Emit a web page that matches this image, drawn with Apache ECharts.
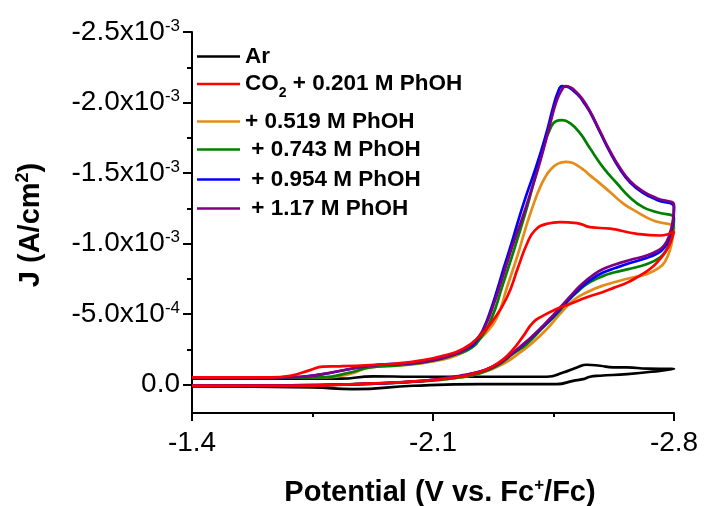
<!DOCTYPE html>
<html>
<head>
<meta charset="utf-8">
<script src="https://cdn.jsdelivr.net/npm/echarts@6/dist/echarts.min.js"></script>
<style>
  html, body { margin: 0; padding: 0; background: #ffffff; }
  #chart { width: 707px; height: 506px; }
</style>
</head>
<body>
<div id="chart"></div>
<script>
// Cyclic voltammograms, each a closed loop of [potential (V vs. Fc+/Fc), J (A/cm2)]:
// cathodic sweep from -1.4 V to -2.8 V, then the return sweep back to -1.4 V.
const ar = [
  [-1.400,-0.043e-3],[-1.830,-0.043e-3],[-1.926,-0.060e-3],[-2.042,-0.057e-3],[-2.431,-0.057e-3],
  [-2.478,-0.087e-3],[-2.518,-0.123e-3],[-2.547,-0.142e-3],[-2.585,-0.135e-3],[-2.623,-0.123e-3],
  [-2.664,-0.123e-3],[-2.722,-0.114e-3],[-2.800,-0.112e-3],
  [-2.759,-0.099e-3],[-2.664,-0.076e-3],[-2.585,-0.064e-3],[-2.556,-0.057e-3],[-2.536,-0.040e-3],
  [-2.507,-0.028e-3],[-2.460,-0.005e-3],[-2.237,-0.005e-3],[-2.042,0.007e-3],[-1.868,0.031e-3],
  [-1.751,0.019e-3],[-1.400,0.012e-3]
];

const co2 = [
  [-1.400,-0.053e-3],[-1.627,-0.053e-3],[-1.685,-0.064e-3],[-1.743,-0.104e-3],[-1.780,-0.128e-3],
  [-1.830,-0.131e-3],[-1.917,-0.140e-3],[-1.995,-0.151e-3],[-2.071,-0.175e-3],[-2.129,-0.206e-3],
  [-2.187,-0.254e-3],[-2.237,-0.348e-3],[-2.274,-0.455e-3],[-2.315,-0.620e-3],[-2.347,-0.831e-3],
  [-2.373,-0.999e-3],[-2.396,-1.094e-3],[-2.431,-1.141e-3],[-2.469,-1.153e-3],[-2.518,-1.146e-3],
  [-2.556,-1.117e-3],[-2.614,-1.106e-3],[-2.693,-1.070e-3],[-2.759,-1.058e-3],[-2.800,-1.087e-3],
  [-2.794,-1.037e-3],[-2.786,-0.987e-3],[-2.774,-0.938e-3],[-2.756,-0.881e-3],[-2.730,-0.820e-3],
  [-2.701,-0.774e-3],[-2.664,-0.724e-3],[-2.623,-0.685e-3],[-2.594,-0.658e-3],[-2.547,-0.620e-3],
  [-2.498,-0.573e-3],[-2.460,-0.538e-3],[-2.420,-0.490e-3],[-2.390,-0.440e-3],[-2.361,-0.341e-3],
  [-2.332,-0.249e-3],[-2.303,-0.178e-3],[-2.266,-0.121e-3],[-2.228,-0.085e-3],[-2.178,-0.057e-3],
  [-2.071,-0.028e-3],[-1.879,-0.005e-3],[-1.685,0.007e-3],[-1.400,0.007e-3]
];

const phoh0519 = [
  [-1.400,-0.050e-3],[-1.685,-0.050e-3],[-1.780,-0.053e-3],[-1.859,-0.076e-3],[-1.917,-0.123e-3],
  [-1.995,-0.135e-3],[-2.100,-0.165e-3],[-2.187,-0.229e-3],[-2.216,-0.289e-3],[-2.251,-0.360e-3],
  [-2.286,-0.478e-3],[-2.315,-0.691e-3],[-2.347,-0.928e-3],[-2.361,-1.044e-3],[-2.376,-1.165e-3],
  [-2.396,-1.307e-3],[-2.411,-1.399e-3],[-2.425,-1.467e-3],[-2.440,-1.520e-3],[-2.463,-1.567e-3],
  [-2.486,-1.579e-3],[-2.504,-1.573e-3],[-2.521,-1.552e-3],[-2.539,-1.520e-3],[-2.556,-1.484e-3],
  [-2.576,-1.445e-3],[-2.614,-1.366e-3],[-2.652,-1.286e-3],[-2.693,-1.224e-3],[-2.739,-1.165e-3],
  [-2.800,-1.112e-3],
  [-2.797,-1.058e-3],[-2.788,-0.952e-3],[-2.774,-0.874e-3],[-2.759,-0.833e-3],[-2.722,-0.786e-3],
  [-2.664,-0.751e-3],[-2.594,-0.703e-3],[-2.547,-0.656e-3],[-2.507,-0.597e-3],[-2.469,-0.502e-3],
  [-2.431,-0.396e-3],[-2.390,-0.300e-3],[-2.353,-0.229e-3],[-2.303,-0.147e-3],[-2.245,-0.087e-3],
  [-2.178,-0.052e-3],[-2.071,-0.025e-3],[-1.879,-0.004e-3],[-1.685,0.004e-3],[-1.400,0.004e-3]
];

const phoh0743 = [
  [-1.400,-0.050e-3],[-1.685,-0.050e-3],[-1.780,-0.053e-3],[-1.859,-0.087e-3],[-1.917,-0.123e-3],
  [-2.013,-0.140e-3],[-2.100,-0.170e-3],[-2.170,-0.218e-3],[-2.207,-0.254e-3],[-2.237,-0.327e-3],
  [-2.271,-0.476e-3],[-2.300,-0.689e-3],[-2.318,-0.824e-3],[-2.332,-0.930e-3],[-2.344,-1.023e-3],
  [-2.373,-1.257e-3],[-2.396,-1.470e-3],[-2.420,-1.683e-3],[-2.440,-1.811e-3],[-2.457,-1.868e-3],
  [-2.475,-1.875e-3],[-2.498,-1.854e-3],[-2.527,-1.783e-3],[-2.556,-1.676e-3],[-2.594,-1.541e-3],
  [-2.634,-1.428e-3],[-2.672,-1.328e-3],[-2.710,-1.259e-3],[-2.751,-1.222e-3],[-2.800,-1.179e-3],
  [-2.797,-1.094e-3],[-2.788,-1.023e-3],[-2.777,-0.952e-3],[-2.759,-0.902e-3],[-2.722,-0.856e-3],
  [-2.664,-0.818e-3],[-2.605,-0.781e-3],[-2.556,-0.727e-3],[-2.518,-0.656e-3],[-2.489,-0.585e-3],
  [-2.460,-0.502e-3],[-2.420,-0.407e-3],[-2.373,-0.289e-3],[-2.332,-0.218e-3],[-2.286,-0.135e-3],
  [-2.228,-0.076e-3],[-2.178,-0.052e-3],[-2.071,-0.025e-3],[-1.879,-0.004e-3],[-1.685,0.004e-3],
  [-1.400,0.004e-3]
];

const phoh0954 = [
  [-1.400,-0.052e-3],[-1.598,-0.052e-3],[-1.714,-0.057e-3],[-1.780,-0.076e-3],[-1.859,-0.112e-3],
  [-1.937,-0.140e-3],[-2.024,-0.151e-3],[-2.091,-0.170e-3],[-2.149,-0.206e-3],[-2.199,-0.256e-3],
  [-2.228,-0.316e-3],[-2.248,-0.405e-3],[-2.266,-0.518e-3],[-2.286,-0.668e-3],[-2.306,-0.831e-3],
  [-2.327,-0.994e-3],[-2.347,-1.158e-3],[-2.367,-1.314e-3],[-2.390,-1.477e-3],[-2.414,-1.655e-3],
  [-2.434,-1.825e-3],[-2.449,-1.967e-3],[-2.463,-2.074e-3],[-2.475,-2.117e-3],[-2.489,-2.113e-3],
  [-2.507,-2.085e-3],[-2.527,-2.038e-3],[-2.541,-1.989e-3],[-2.556,-1.932e-3],[-2.585,-1.790e-3],
  [-2.614,-1.648e-3],[-2.643,-1.527e-3],[-2.672,-1.435e-3],[-2.710,-1.360e-3],[-2.751,-1.310e-3],
  [-2.800,-1.257e-3],
  [-2.797,-1.151e-3],[-2.786,-1.044e-3],[-2.771,-0.969e-3],[-2.751,-0.930e-3],[-2.716,-0.895e-3],
  [-2.672,-0.863e-3],[-2.629,-0.827e-3],[-2.594,-0.795e-3],[-2.565,-0.756e-3],[-2.536,-0.703e-3],
  [-2.507,-0.636e-3],[-2.478,-0.561e-3],[-2.449,-0.483e-3],[-2.420,-0.412e-3],[-2.390,-0.344e-3],
  [-2.359,-0.277e-3],[-2.329,-0.220e-3],[-2.295,-0.156e-3],[-2.257,-0.110e-3],[-2.216,-0.082e-3],
  [-2.178,-0.060e-3],[-2.071,-0.028e-3],[-1.879,-0.005e-3],[-1.685,0.004e-3],[-1.400,0.004e-3]
];

const phoh117 = [
  [-1.400,-0.050e-3],[-1.598,-0.050e-3],[-1.714,-0.055e-3],[-1.780,-0.076e-3],[-1.859,-0.112e-3],
  [-1.937,-0.140e-3],[-2.024,-0.151e-3],[-2.091,-0.170e-3],[-2.149,-0.206e-3],[-2.199,-0.259e-3],
  [-2.237,-0.355e-3],[-2.257,-0.447e-3],[-2.277,-0.575e-3],[-2.298,-0.732e-3],[-2.318,-0.888e-3],
  [-2.338,-1.037e-3],[-2.359,-1.179e-3],[-2.379,-1.328e-3],[-2.402,-1.506e-3],[-2.425,-1.705e-3],
  [-2.443,-1.875e-3],[-2.457,-1.996e-3],[-2.472,-2.081e-3],[-2.486,-2.117e-3],[-2.501,-2.106e-3],
  [-2.515,-2.077e-3],[-2.533,-2.028e-3],[-2.556,-1.939e-3],[-2.585,-1.797e-3],[-2.614,-1.658e-3],
  [-2.643,-1.538e-3],[-2.672,-1.445e-3],[-2.710,-1.371e-3],[-2.751,-1.321e-3],[-2.800,-1.271e-3],
  [-2.797,-1.165e-3],[-2.786,-1.058e-3],[-2.771,-0.987e-3],[-2.751,-0.948e-3],[-2.716,-0.913e-3],
  [-2.672,-0.884e-3],[-2.629,-0.852e-3],[-2.594,-0.820e-3],[-2.565,-0.778e-3],[-2.536,-0.721e-3],
  [-2.507,-0.650e-3],[-2.478,-0.572e-3],[-2.449,-0.494e-3],[-2.420,-0.419e-3],[-2.390,-0.348e-3],
  [-2.359,-0.281e-3],[-2.329,-0.220e-3],[-2.295,-0.156e-3],[-2.257,-0.110e-3],[-2.216,-0.082e-3],
  [-2.178,-0.064e-3],[-2.071,-0.028e-3],[-1.879,-0.005e-3],[-1.685,0.004e-3],[-1.400,0.004e-3]
];

// Series names, legend labels and colours (legend order)
const seriesNames = ['Ar', 'CO2 + 0.201 M PhOH', '+ 0.519 M PhOH', '+ 0.743 M PhOH', '+ 0.954 M PhOH', '+ 1.17 M PhOH'];
const legendLabels = ['Ar', '{t|CO}{sub|2}{t| + 0.201 M PhOH}', '+ 0.519 M PhOH', ' + 0.743 M PhOH', ' + 0.954 M PhOH', ' + 1.17 M PhOH'];
const seriesColors = ['#000000', '#ff0000', '#e58b16', '#008000', '#0000ff', '#800080'];
const seriesData = [ar, co2, phoh0519, phoh0743, phoh0954, phoh117];

// Axis ticks
const yTickValues = [-2.5e-3, -2.0e-3, -1.5e-3, -1.0e-3, -0.5e-3, 0];
const yMinorTickValues = [-2.25e-3, -1.75e-3, -1.25e-3, -0.75e-3, -0.25e-3];

// Layout
const FONT = "'Liberation Sans', Arial, Helvetica, sans-serif";
const drawOrder = [0, 2, 3, 4, 5, 1];
const legendRowCenters = [56, 84, 121, 149, 179, 208];

function sciLabel(v) {
  if (Math.abs(v) < 1e-12) return '{m|0.0}';
  const e = Math.floor(Math.log10(Math.abs(v)) + 1e-9);
  const m = v / Math.pow(10, e);
  return '{m|' + m.toFixed(1) + 'x10}{s|' + e + '}';
}

const legendRich = {
  t: { fontFamily: FONT, fontSize: 22.5, fontWeight: 'bold', color: '#000', lineHeight: 22, verticalAlign: 'middle' },
  sub: { fontFamily: FONT, fontSize: 14, fontWeight: 'bold', color: '#000', lineHeight: 14, padding: [18, 0, 0, 0], verticalAlign: 'middle' }
};

const legends = seriesNames.map(function (name, i) {
  const tall = legendLabels[i].indexOf('{sub|') >= 0;
  return {
    orient: 'vertical',
    left: 197,
    top: legendRowCenters[i] - (tall ? 16 : 11),
    padding: 0,
    itemGap: 0,
    itemWidth: 43,
    itemHeight: 2.6,
    icon: 'rect',
    selectedMode: false,
    data: [name],
    formatter: function () { return legendLabels[i]; },
    textStyle: {
      fontFamily: FONT, fontSize: 22.5, fontWeight: 'bold', color: '#000', lineHeight: 22,
      rich: legendRich
    }
  };
});

const chart = echarts.init(document.getElementById('chart'), null, { renderer: 'canvas' });

chart.setOption({
  animation: false,
  backgroundColor: '#ffffff',
  textStyle: { fontFamily: FONT },
  grid: { left: 192, right: 33, top: 32, bottom: 93, containLabel: false, outerBoundsMode: 'none' },
  legend: legends,
  xAxis: {
    type: 'value',
    min: -2.8,
    max: -1.4,
    interval: 0.7,
    inverse: true,
    axisLine: { onZero: false, lineStyle: { color: '#000', width: 2 } },
    axisTick: { length: 8, lineStyle: { color: '#000', width: 2 } },
    minorTick: { show: true, splitNumber: 2, length: 4, lineStyle: { color: '#000', width: 2 } },
    splitLine: { show: false },
    minorSplitLine: { show: false },
    axisLabel: {
      margin: 16, color: '#000', fontFamily: FONT, fontSize: 28, lineHeight: 28,
      formatter: function (v) { return v.toFixed(1); }
    },
    name: 'Potential (V vs. Fc{sup|+}/Fc)',
    nameLocation: 'middle',
    nameGap: 65,
    nameTextStyle: {
      fontFamily: FONT, fontSize: 29, fontWeight: 'bold', color: '#000', lineHeight: 29,
      padding: [0, 0, 0, 14],
      rich: {
        sup: { fontFamily: FONT, fontSize: 17, fontWeight: 'bold', color: '#000', lineHeight: 17, padding: [0, 0, 14, 0], verticalAlign: 'middle' }
      }
    }
  },
  yAxis: [
    {
      type: 'value',
      min: -2.5e-3,
      max: 0.2e-3,
      interval: 0.5e-3,
      inverse: true,
      position: 'left',
      axisLine: { onZero: false, lineStyle: { color: '#000', width: 2 } },
      axisTick: { customValues: yTickValues, length: 9, lineStyle: { color: '#000', width: 2 } },
      splitLine: { show: false },
      axisLabel: {
        customValues: yTickValues,
        margin: 12,
        formatter: sciLabel,
        rich: {
          m: { fontFamily: FONT, fontSize: 28, color: '#000', lineHeight: 28, verticalAlign: 'middle' },
          s: { fontFamily: FONT, fontSize: 17, color: '#000', lineHeight: 17, padding: [0, 0, 12, 0], verticalAlign: 'middle' }
        }
      },
      name: 'J (A/cm{sup|2})',
      nameLocation: 'middle',
      nameGap: 147,
      nameTextStyle: {
        fontFamily: FONT, fontSize: 29, fontWeight: 'bold', color: '#000', lineHeight: 29,
        padding: [0, 5, 0, 0],
        rich: {
          sup: { fontFamily: FONT, fontSize: 18, fontWeight: 'bold', color: '#000', lineHeight: 18, padding: [0, 0, 14, 0], verticalAlign: 'middle' }
        }
      }
    },
    {
      // minor ticks of the current-density axis
      type: 'value',
      min: -2.5e-3,
      max: 0.2e-3,
      inverse: true,
      position: 'left',
      axisLine: { show: false, onZero: false },
      axisTick: { customValues: yMinorTickValues, length: 5, lineStyle: { color: '#000', width: 2 } },
      axisLabel: { show: false },
      splitLine: { show: false }
    }
  ],
  series: drawOrder.map(function (i) {
    return {
      name: seriesNames[i],
      type: 'line',
      xAxisIndex: 0,
      yAxisIndex: 0,
      data: seriesData[i],
      showSymbol: false,
      symbol: 'none',
      smooth: 0.5,
      color: seriesColors[i],
      lineStyle: { color: seriesColors[i], width: 2.7 },
      emphasis: { disabled: true }
    };
  })
});
</script>
</body>
</html>
